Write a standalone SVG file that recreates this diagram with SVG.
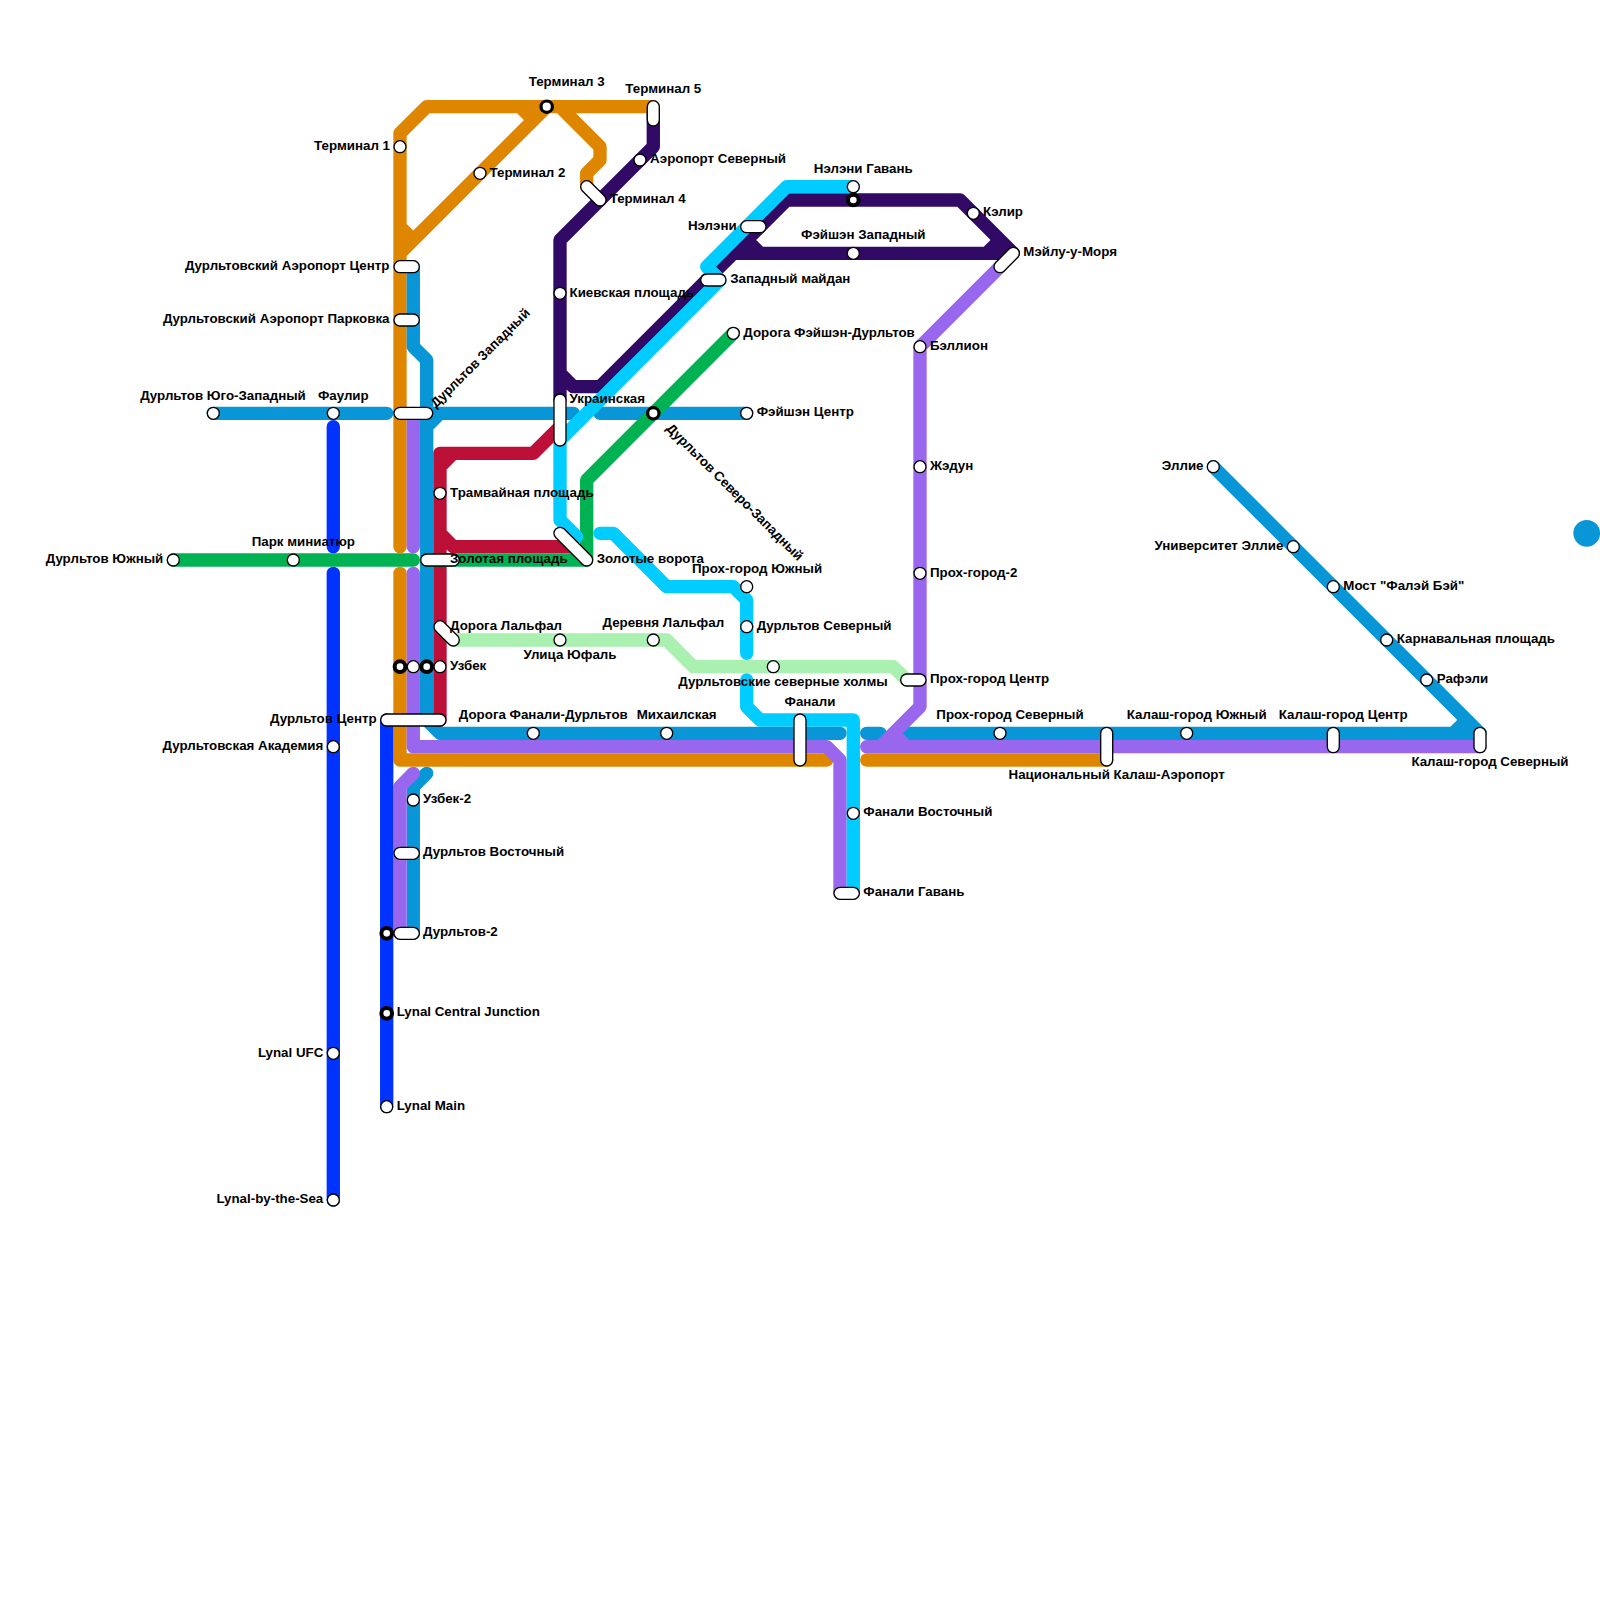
<svg xmlns="http://www.w3.org/2000/svg" width="1600" height="1600" viewBox="0 0 1600 1600">
<style>
text{font-family:"Liberation Sans",Arial,sans-serif;font-weight:700;font-size:13.33px;fill:#000}
.m{text-anchor:middle}.e{text-anchor:end}
#connectors path{fill:none;stroke-width:13.33;stroke-linecap:round;stroke-linejoin:round}
.or{stroke:#df8600}.pu{stroke:#9966ee}.bl{stroke:#0896d7}.re{stroke:#bd1038}.gr{stroke:#00b251}.lg{stroke:#a9f0b1}.cy{stroke:#00ccff}.dp{stroke:#300a64}.db{stroke:#0033ff}
.s{fill:#fff;stroke:#000;stroke-width:1.33}
.x{fill:#fff;stroke:#000;stroke-width:4}
.y{fill:#fff;stroke:#000;stroke-width:3.2}
.co{fill:none;stroke:#000;stroke-width:13.33;stroke-linecap:round}
.ci{fill:none;stroke:#fff;stroke-width:10.67;stroke-linecap:round}
</style>
<defs>
<circle id="st" r="6" class="s"/>
<circle id="xc" r="5.33" class="x"/>
<circle id="yc" r="5.7" class="y"/>
</defs>
<circle id="blue-dot" cx="1586.7" cy="533.3" r="13.33" fill="#0896d7"/>
<g id="connectors">
<path class="or" d="M400 546.7V133.3L426.7 106.7H653.3M546.7 106.7L400 253.3M520 106.7L533.3 120M400 226.7L413.3 240M560 106.7L600 146.7V160L586.7 173.3V186.7M400 573.3V760H826.7M866.7 760H1106.7"/>
<path class="bl" d="M213.3 413.3H386.7M426.7 413.3H573.3M600 413.3H746.7M440 413.3L426.7 426.7M413.3 266.7V346.7L426.7 360V720L440 733.3H840M866.7 733.3H880M906.7 733.3H1480L1213.3 466.7M1466.7 720L1453.3 733.3M426.7 773.3L413.3 786.7V933.3"/>
<path class="pu" d="M413.3 413.3V546.7M413.3 573.3V746.7H826.7L840 760V893.3M413.3 773.3L400 786.7V933.3M866.7 746.7H1480M1000 266.7L920 346.7V706.7L880 746.7M893.3 733.3L906.7 746.7"/>
<path class="re" d="M560 426.7L533.3 453.3H440V720M440 466.7L453.3 453.3M440 533.3L453.3 546.7H573.3"/>
<path class="gr" d="M173.3 560H413.3M426.7 560H586.7V480L733.3 333.3"/>
<path class="lg" d="M453.3 640H666.7L693.3 666.7H893.3L906.7 680"/>
<path class="dp" d="M653.3 113.3V146.7L560 240V400M560 373.3L573.3 386.7H600L786.7 200H960L1013.3 253.3H733.3M746.7 240L760 253.3M1000 240L986.7 253.3"/>
<path class="cy" d="M853.3 186.7H786.7L706.7 266.7L720 280L560 440V520L576.7 536.7M600 533.3H613.3L666.7 586.7H733.3L746.7 600V653.3M746.7 680V706.7L760 720H853.3V893.3"/>
<path class="db" d="M333.3 426.7V546.7M333.3 573.3V1200M386.7 720V1106.7"/>
</g>
<g id="n1"><use href="#st" x="400" y="146.7"/><text class="e" x="390" y="150">Терминал 1</text></g>
<g id="n2"><use href="#st" x="480" y="173.3"/><text x="489.5" y="176.7">Терминал 2</text></g>
<g id="n3"><use href="#yc" x="546.7" y="106.7"/><text class="m" x="566.7" y="86">Терминал 3</text></g>
<g id="n4"><path class="co" d="M586.7 186.7L600 200"/><path class="ci" d="M586.7 186.7L600 200"/><text x="609.7" y="202.7">Терминал 4</text></g>
<g id="n5"><path class="co" d="M653.3 106.7V120"/><path class="ci" d="M653.3 106.7V120"/><text class="m" x="663.3" y="92.7">Терминал 5</text></g>
<g id="n6"><use href="#st" x="640" y="160"/><text x="650" y="163.3">Аэропорт Северный</text></g>
<g id="n7"><path class="co" d="M400 266.7H413.3"/><path class="ci" d="M400 266.7H413.3"/><text class="e" x="389.5" y="270">Дурльтовский Аэропорт Центр</text></g>
<g id="n8"><path class="co" d="M400 320H413.3"/><path class="ci" d="M400 320H413.3"/><text class="e" x="389.5" y="323.3">Дурльтовский Аэропорт Парковка</text></g>
<g id="n9"><path class="co" d="M400 413.3H426.7"/><path class="ci" d="M400 413.3H426.7"/><text transform="translate(436 408.5) rotate(-45)">Дурльтов Западный</text></g>
<g id="n10"><use href="#st" x="213.3" y="413.3"/><text class="m" x="223" y="400">Дурльтов Юго-Западный</text></g>
<g id="n11"><use href="#st" x="333.3" y="413.3"/><text class="m" x="343.3" y="400">Фаулир</text></g>
<g id="n12"><use href="#st" x="560" y="293.3"/><text x="569.5" y="296.7">Киевская площадь</text></g>
<g id="n13"><path class="co" d="M560 400V440"/><path class="ci" d="M560 400V440"/><text x="569.5" y="402.7">Украинская</text></g>
<g id="n14"><use href="#yc" x="653.3" y="413.3"/><text transform="translate(665.5 429) rotate(45)">Дурльтов Северо-Западный</text></g>
<g id="n15"><use href="#st" x="746.7" y="413.3"/><text x="756.7" y="416.2">Фэйшэн Центр</text></g>
<g id="n16"><use href="#st" x="733.3" y="333.3"/><text x="743.3" y="336.7">Дорога Фэйшэн-Дурльтов</text></g>
<g id="n17"><path class="co" d="M746.7 226.7H760"/><path class="ci" d="M746.7 226.7H760"/><text class="e" x="736.7" y="230">Нэлэни</text></g>
<g id="n18"><path class="co" d="M706.7 280H720"/><path class="ci" d="M706.7 280H720"/><text x="730.2" y="283">Западный майдан</text></g>
<g id="n19"><use href="#st" x="853.3" y="186.7"/><text class="m" x="863.3" y="172.7">Нэлэни Гавань</text></g>
<g id="n20"><use href="#xc" x="853.3" y="200"/></g>
<g id="n21"><use href="#st" x="853.3" y="253.3"/><text class="m" x="863.3" y="239.3">Фэйшэн Западный</text></g>
<g id="n22"><use href="#st" x="973.3" y="213.3"/><text x="983" y="216">Кэлир</text></g>
<g id="n23"><path class="co" d="M1000 266.7L1013.3 253.3"/><path class="ci" d="M1000 266.7L1013.3 253.3"/><text x="1023.3" y="256">Мэйлу-у-Моря</text></g>
<g id="n24"><use href="#st" x="920" y="346.7"/><text x="930" y="350">Бэллион</text></g>
<g id="n25"><use href="#st" x="920" y="466.7"/><text x="930" y="470">Жэдун</text></g>
<g id="n26"><use href="#st" x="920" y="573.3"/><text x="930" y="576.7">Прох-город-2</text></g>
<g id="n27"><path class="co" d="M906.7 680H920"/><path class="ci" d="M906.7 680H920"/><text x="930" y="683.3">Прох-город Центр</text></g>
<g id="n28"><use href="#st" x="173.3" y="560"/><text class="e" x="163.3" y="563.3">Дурльтов Южный</text></g>
<g id="n29"><use href="#st" x="293.3" y="560"/><text class="m" x="303.3" y="546">Парк миниатюр</text></g>
<g id="n30"><use href="#st" x="440" y="493.3"/><text x="450" y="496.7">Трамвайная площадь</text></g>
<g id="n31"><path class="co" d="M426.7 560H453.3"/><path class="ci" d="M426.7 560H453.3"/><text x="450" y="563.3">Золотая площадь</text></g>
<g id="n32"><path class="co" d="M560 533.3L586.7 560"/><path class="ci" d="M560 533.3L586.7 560"/><text x="596.7" y="563.3">Золотые ворота</text></g>
<g id="n33"><use href="#st" x="746.7" y="586.7"/><text x="692" y="573.3">Прох-город Южный</text></g>
<g id="n34"><use href="#st" x="746.7" y="626.7"/><text x="756.7" y="630">Дурльтов Северный</text></g>
<g id="n35"><path class="co" d="M440 626.7L453.3 640"/><path class="ci" d="M440 626.7L453.3 640"/><text x="450" y="630">Дорога Лальфал</text></g>
<g id="n36"><use href="#st" x="560" y="640"/><text class="m" x="570" y="659.3">Улица Юфаль</text></g>
<g id="n37"><use href="#st" x="653.3" y="640"/><text class="m" x="663.3" y="626.7">Деревня Лальфал</text></g>
<g id="n38"><use href="#st" x="773.3" y="666.7"/><text class="m" x="783" y="686">Дурльтовские северные холмы</text></g>
<g id="n39"><use href="#xc" x="400" y="666.7"/><use href="#st" x="413.3" y="666.7"/><use href="#xc" x="426.7" y="666.7"/><use href="#st" x="440" y="666.7"/><text x="450" y="670">Узбек</text></g>
<g id="n40"><path class="co" d="M386.7 720H440"/><path class="ci" d="M386.7 720H440"/><text class="e" x="376.7" y="723">Дурльтов Центр</text></g>
<g id="n41"><use href="#st" x="533.3" y="733.3"/><text class="m" x="543.3" y="719.3">Дорога Фанали-Дурльтов</text></g>
<g id="n42"><use href="#st" x="666.7" y="733.3"/><text class="m" x="676.7" y="719.3">Михаилская</text></g>
<g id="n43"><path class="co" d="M800 720V760"/><path class="ci" d="M800 720V760"/><text class="m" x="810" y="706">Фанали</text></g>
<g id="n44"><use href="#st" x="853.3" y="813.3"/><text x="863.3" y="816">Фанали Восточный</text></g>
<g id="n45"><path class="co" d="M840 893.3H853.3"/><path class="ci" d="M840 893.3H853.3"/><text x="863.3" y="896">Фанали Гавань</text></g>
<g id="n46"><use href="#st" x="1000" y="733.3"/><text class="m" x="1010" y="719.3">Прох-город Северный</text></g>
<g id="n47"><path class="co" d="M1106.7 733.3V760"/><path class="ci" d="M1106.7 733.3V760"/><text class="m" x="1116.7" y="779.3">Национальный Калаш-Аэропорт</text></g>
<g id="n48"><use href="#st" x="1186.7" y="733.3"/><text class="m" x="1196.7" y="719.3">Калаш-город Южный</text></g>
<g id="n49"><path class="co" d="M1333.3 733.3V746.7"/><path class="ci" d="M1333.3 733.3V746.7"/><text class="m" x="1343.3" y="719.3">Калаш-город Центр</text></g>
<g id="n50"><path class="co" d="M1480 733.3V746.7"/><path class="ci" d="M1480 733.3V746.7"/><text class="m" x="1490" y="766">Калаш-город Северный</text></g>
<g id="n51"><use href="#st" x="1426.7" y="680"/><text x="1436.7" y="683.3">Рафэли</text></g>
<g id="n52"><use href="#st" x="1386.7" y="640"/><text x="1396.7" y="643.3">Карнавальная площадь</text></g>
<g id="n53"><use href="#st" x="1333.3" y="586.7"/><text x="1343.3" y="590">Мост "Фалэй Бэй"</text></g>
<g id="n54"><use href="#st" x="1293.3" y="546.7"/><text class="e" x="1283.3" y="550">Университет Эллие</text></g>
<g id="n55"><use href="#st" x="1213.3" y="466.7"/><text class="e" x="1203.5" y="470">Эллие</text></g>
<g id="n56"><use href="#st" x="333.3" y="746.7"/><text class="e" x="323.3" y="750">Дурльтовская Академия</text></g>
<g id="n57"><use href="#st" x="333.3" y="1053.3"/><text class="e" x="323.3" y="1056.7">Lynal UFC</text></g>
<g id="n58"><use href="#st" x="333.3" y="1200"/><text class="e" x="323.3" y="1203.3">Lynal-by-the-Sea</text></g>
<g id="n59"><use href="#st" x="413.3" y="800"/><text x="423" y="803">Узбек-2</text></g>
<g id="n60"><path class="co" d="M400 853.3H413.3"/><path class="ci" d="M400 853.3H413.3"/><text x="423" y="856">Дурльтов Восточный</text></g>
<g id="n61"><use href="#xc" x="386.7" y="933.3"/><path class="co" d="M400 933.3H413.3"/><path class="ci" d="M400 933.3H413.3"/><text x="423" y="936">Дурльтов-2</text></g>
<g id="n62"><use href="#xc" x="386.7" y="1013.3"/><text x="396.7" y="1016">Lynal Central Junction</text></g>
<g id="n63"><use href="#st" x="386.7" y="1106.7"/><text x="396.7" y="1110">Lynal Main</text></g>
</svg>
